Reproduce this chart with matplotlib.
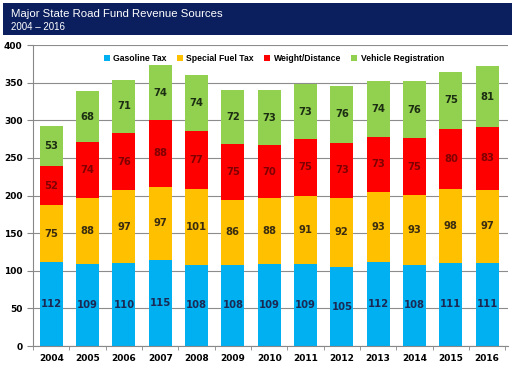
import numpy as np
import matplotlib.pyplot as plt
from matplotlib.patches import Rectangle

years = ['2004', '2005', '2006', '2007', '2008', '2009', '2010',
         '2011', '2012', '2013', '2014', '2015', '2016']
gasoline = [112, 109, 110, 115, 108, 108, 109, 109, 105, 112, 108, 111, 111]
special_fuel = [75, 88, 97, 97, 101, 86, 88, 91, 92, 93, 93, 98, 97]
weight_distance = [52, 74, 76, 88, 77, 75, 70, 75, 73, 73, 75, 80, 83]
vehicle_reg = [53, 68, 71, 74, 74, 72, 73, 73, 76, 74, 76, 75, 81]

series = [
    ('Gasoline Tax', gasoline, '#00b0f0', '#1a2a55'),
    ('Special Fuel Tax', special_fuel, '#ffc000', '#3a2c10'),
    ('Weight/Distance', weight_distance, '#ff0000', '#800000'),
    ('Vehicle Registration', vehicle_reg, '#92d050', '#1c2e12'),
]


def main():
    fig = plt.figure(figsize=(5.17, 3.67), dpi=100)
    fig.patches.append(Rectangle((0.006, 0.905), 0.984, 0.087, transform=fig.transFigure,
                                 facecolor='#0b1f5e', edgecolor='none', zorder=0))
    fig.text(0.022, 0.962, 'Major State Road Fund Revenue Sources', color='white',
             fontsize=8.2, va='center', ha='left', family='Liberation Sans')
    fig.text(0.022, 0.926, '2004 \u2013 2016', color='white', fontsize=7,
             va='center', ha='left', family='Liberation Sans')

    ax = fig.add_axes([0.064, 0.057, 0.919, 0.82])
    x = np.arange(len(years))
    bottom = np.zeros(len(years))
    for name, vals, color, tcolor in series:
        vals = np.array(vals)
        ax.bar(x, vals, 0.63, bottom=bottom, color=color, label=name, zorder=2)
        for xi, b, v in zip(x, bottom, vals):
            ax.text(xi, b + v / 2, str(v), ha='center', va='center', fontsize=7.2,
                    fontweight='bold', color=tcolor, zorder=3)
        bottom = bottom + vals

    ax.set_ylim(0, 400)
    ax.set_yticks(range(0, 401, 50))
    ax.set_xlim(-0.47, 12.58)
    ax.set_xticks(x)
    ax.set_xticklabels(years)
    ax.set_xticks(np.arange(-0.5, 12.6, 1), minor=True)
    ax.tick_params(axis='x', which='major', length=0, labelsize=6.5, pad=6)
    ax.tick_params(axis='x', which='minor', length=3, color='#888888')
    ax.tick_params(axis='y', length=4, color='#888888', labelsize=6.5)
    for lab in ax.get_xticklabels() + ax.get_yticklabels():
        lab.set_fontweight('bold')
    ax.grid(axis='y', color='#8c8c8c', linewidth=0.8, zorder=0)
    for s in ['top', 'right']:
        ax.spines[s].set_visible(False)
    ax.spines['left'].set_color('#888888')
    ax.spines['bottom'].set_color('#888888')

    leg = ax.legend(loc='upper center', bbox_to_anchor=(0.507, 0.995), ncol=4, frameon=False,
                    prop={'family': 'Liberation Sans', 'weight': 'bold', 'size': 6.2},
                    handlelength=0.7, handleheight=0.7, columnspacing=1.2,
                    handletextpad=0.4)

    fig.savefig('out.png', dpi=100)


main()
